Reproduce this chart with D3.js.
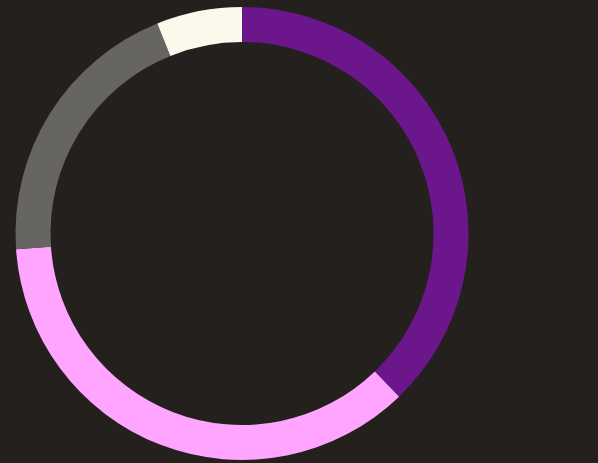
<!DOCTYPE html>
<html>
<head>
<meta charset="utf-8">
<script src="https://cdn.jsdelivr.net/npm/d3@7"></script>
<style>
html,body{margin:0;padding:0;background:#23201d;}
svg{display:block;}
</style>
</head>
<body>
<svg id="chart" width="598" height="463"></svg>
<script>
const categories = ["A", "B", "C", "D"];
const values = [37.8, 36.1, 20.0, 6.1];
const colors = ["#6b168a", "#ffa5ff", "#676562", "#fdf8ec"];

const svg = d3.select("#chart");
svg.append("rect").attr("width", 598).attr("height", 463).attr("fill", "#23201d");

const cx = 242, cy = 233.5, outerR = 226.5, innerR = 191.5;
const pie = d3.pie().sort(null).value(d => d.v);
const arc = d3.arc().innerRadius(innerR).outerRadius(outerR);
const data = categories.map((c, i) => ({c, v: values[i]}));
const color = d3.scaleOrdinal().domain(categories).range(colors);

svg.append("g").attr("transform", `translate(${cx},${cy})`)
  .selectAll("path").data(pie(data)).join("path")
  .attr("d", arc)
  .attr("fill", d => color(d.data.c));
</script>
</body>
</html>
